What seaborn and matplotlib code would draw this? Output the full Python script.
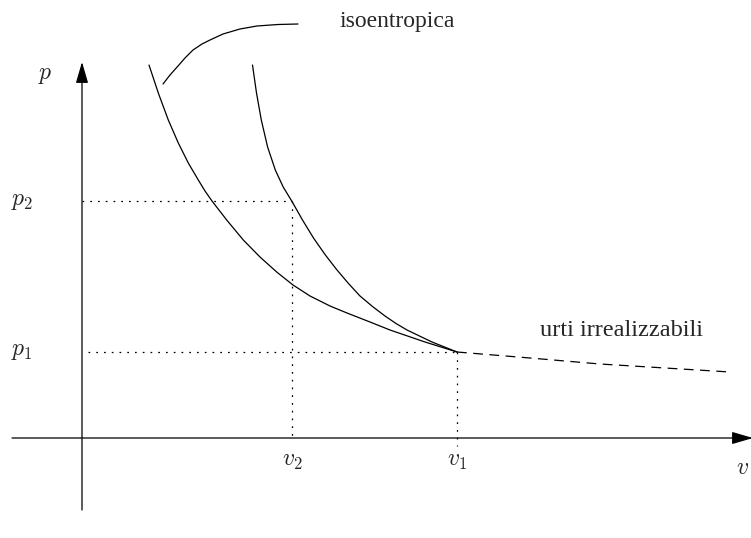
import matplotlib
matplotlib.use("Agg")
import matplotlib.pyplot as plt
import seaborn as sns

sns.set_style("white")
plt.rcParams['font.family'] = ['Liberation Serif', 'DejaVu Serif']
plt.rcParams['mathtext.fontset'] = 'cm'

# diagram coordinates: x = v, y = p (origin at the axes crossing)
v1, p1 = 375, 86
v2, p2 = 210, 237

# curve through (v1, p1) reaching p2 at v2
curve_a_v = [170.5, 174.5, 179.3, 185.6, 193.3, 201.2, 210, 220.5, 231.5, 243, 255,
             266.5, 278, 290.5, 303, 314, 325, 350, 375]
curve_a_p = [373, 345, 318, 291, 268, 251, 236.5, 218, 200, 183.5, 168,
             154.5, 142, 131.5, 122, 114.5, 108, 96, 86]

# curve labelled "isoentropica"
curve_b_v = [67, 76.3, 86.3, 96.3, 106.3, 116.3, 123, 130, 144.7, 161.3, 178, 194.7,
             211, 228, 248, 265, 288, 308, 343, 375]
curve_b_p = [373, 345, 318, 295, 275, 258, 247, 237, 218, 198, 181, 166,
             153, 142, 132, 125, 116, 108, 96, 86]

# unrealisable shocks (dashed continuation)
dash_v = [375, 448, 518, 583, 648]
dash_p = [86, 80, 74, 70, 66]

# pointer from the label to the curve
lead_v = [81, 88, 96, 103, 111, 120, 128, 141, 158, 175, 196, 216]
lead_p = [354, 363, 372, 380, 388, 394, 398, 404, 409, 412, 413.5, 414]

fig = plt.figure(figsize=(7.51, 5.38), dpi=100)
ax = fig.add_axes([0, 0, 1, 1])
ax.set_xlim(-82, 669)
ax.set_ylim(-100, 438)
ax.axis('off')

lw = 0.9
for xs, ys in [(curve_a_v, curve_a_p), (curve_b_v, curve_b_p), (lead_v, lead_p)]:
    sns.lineplot(x=xs, y=ys, sort=False, estimator=None, color='black', lw=lw, ax=ax)
sns.lineplot(x=dash_v, y=dash_p, sort=False, estimator=None, color='black', lw=lw,
             ax=ax).lines[-1].set_dashes((7.8, 5.2))

# dotted guides
dot = dict(color='black', lw=0.9, dashes=(1.4, 4.8))
ax.plot([0, v2], [p2, p2], **dot)
ax.plot([v2, v2], [p2, 0], **dot)
ax.plot([6, v1], [p1, p1], **dot)
ax.plot([v1, v1], [p1, -8], **dot)

# axes with arrows
arrow = dict(arrowstyle='-|>,head_length=1.3,head_width=0.38', color='black',
             lw=lw, shrinkA=0, shrinkB=0, mutation_scale=10)
ax.annotate('', xy=(671, 0), xytext=(-70, 0), arrowprops=arrow, annotation_clip=False)
ax.annotate('', xy=(0, 376), xytext=(0, -72), arrowprops=arrow, annotation_clip=False)

fs = 17
ax.text(-37, 362, r'$p$', fontsize=fs, ha='center', va='center')
ax.text(-60, 237, r'$p_2$', fontsize=fs, ha='center', va='center')
ax.text(-60, 86, r'$p_1$', fontsize=fs, ha='center', va='center')
ax.text(v2, -24, r'$v_2$', fontsize=fs, ha='center', va='center')
ax.text(v1, -24, r'$v_1$', fontsize=fs, ha='center', va='center')
ax.text(660, -30, r'$v$', fontsize=fs, ha='center', va='center')
ax.text(315, 416, 'isoentropica', fontsize=17, ha='center', va='center')
ax.text(540, 108, 'urti irrealizzabili', fontsize=17.5, ha='center', va='center')

fig.savefig('out.png', dpi=100)
